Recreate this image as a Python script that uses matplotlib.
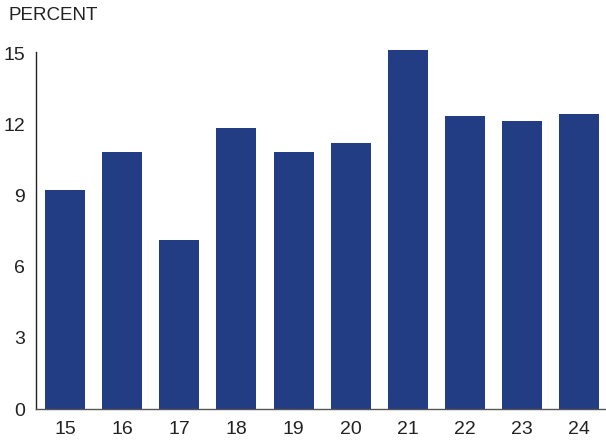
import matplotlib
matplotlib.use("Agg")
import matplotlib.pyplot as plt

years = [15, 16, 17, 18, 19, 20, 21, 22, 23, 24]
percent = [9.25, 10.86, 7.14, 11.87, 10.86, 11.24, 15.17, 12.38, 12.17, 12.46]
yticks = [0, 3, 6, 9, 12, 15]

plt.rcParams['font.family'] = ['Liberation Sans', 'DejaVu Sans']

fig = plt.figure(figsize=(6.06, 4.43), dpi=100)
ax = fig.add_axes([36 / 606, 1 - 409 / 443, 1 - 36 / 606, (409 - 49.2) / 443])

ax.bar(years, percent, width=0.7, color='#233d85', clip_on=False)

ax.set_xlim(14.49, 24.47)
ax.set_ylim(0, 15.2)
ax.set_xticks(years)
ax.set_xticklabels([str(y) for y in years])
ax.set_yticks(yticks)

for s in ['top', 'right']:
    ax.spines[s].set_visible(False)
ax.spines['left'].set_bounds(0, 15.08)
ax.spines['left'].set_color('#222222')
ax.spines['bottom'].set_color('#555555')
ax.spines['left'].set_linewidth(1.0)
ax.spines['bottom'].set_linewidth(1.0)

ax.tick_params(axis='both', length=0, labelsize=14, colors='#222222')
ax.tick_params(axis='y', pad=8)
ax.tick_params(axis='x', pad=9)
for lbl in ax.get_yticklabels():
    lbl.set_y(lbl.get_position()[1])

fig.text(8 / 606, 1 - 15 / 443, 'PERCENT', fontsize=13.5, color='#222222',
         ha='left', va='center')

fig.savefig('out.png', dpi=100)
